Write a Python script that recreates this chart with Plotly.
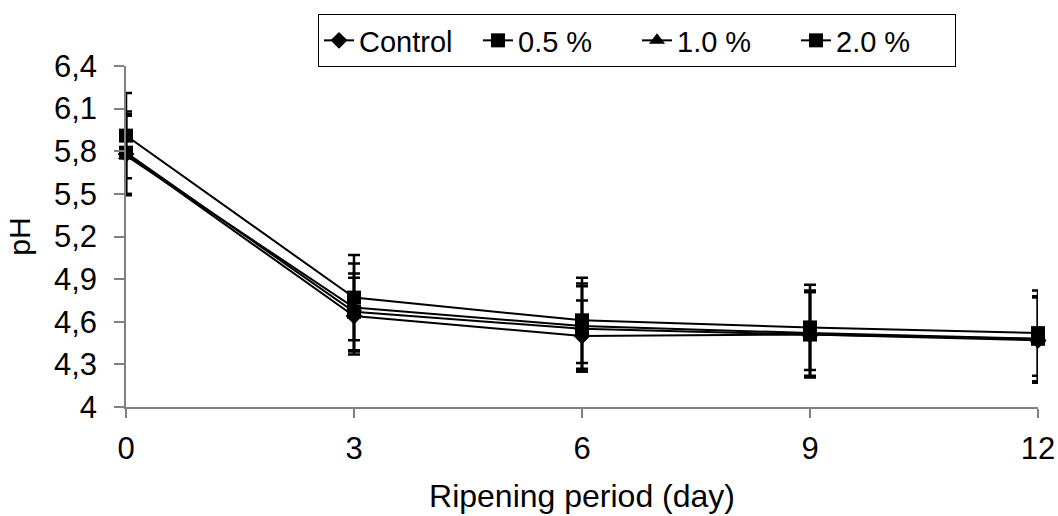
import plotly.graph_objects as go

days = [0, 3, 6, 9, 12]
series_names = ["Control", "0.5 %", "1.0 %", "2.0 %"]
control = [5.78, 4.64, 4.50, 4.51, 4.47]
p05 = [5.79, 4.67, 4.55, 4.51, 4.48]
p10 = [5.77, 4.70, 4.57, 4.52, 4.48]
p20 = [5.91, 4.77, 4.61, 4.56, 4.52]
err_control = [0.28, 0.27, 0.25, 0.30, 0.30]
err_p05 = [0.29, 0.27, 0.30, 0.30, 0.30]
err_p10 = [0.28, 0.31, 0.30, 0.30, 0.30]
err_p20 = [0.30, 0.30, 0.30, 0.30, 0.30]
symbols = ["diamond", "square", "triangle-up", "square"]

y_ticks = [4.0, 4.3, 4.6, 4.9, 5.2, 5.5, 5.8, 6.1, 6.4]
y_ticktext = ["4", "4,3", "4,6", "4,9", "5,2", "5,5", "5,8", "6,1", "6,4"]
x_ticks = [0, 3, 6, 9, 12]

fig = go.Figure()
for name, vals, errs, sym in zip(series_names, [control, p05, p10, p20],
                                 [err_control, err_p05, err_p10, err_p20], symbols):
    fig.add_trace(go.Scatter(
        x=days, y=vals, name=name, mode="lines+markers",
        line=dict(color="black", width=2),
        marker=dict(symbol=sym, size=14 if sym != "diamond" else 13, color="black"),
        error_y=dict(type="data", array=errs, visible=True, color="black",
                     thickness=2.5, width=6),
        cliponaxis=False,
    ))

font_family = "Liberation Sans, Arial, sans-serif"
fig.update_layout(
    template="none",
    width=1058, height=516,
    margin=dict(l=126, r=20, t=66, b=109),
    paper_bgcolor="white", plot_bgcolor="white",
    font=dict(family=font_family, size=29, color="black"),
    showlegend=True,
    legend=dict(orientation="h", x=(318 - 126) / 912, y=(407 - 14) / 341,
                xanchor="left", yanchor="top",
                bordercolor="black", borderwidth=1, font=dict(size=29),
                entrywidth=114, entrywidthmode="pixels",
                itemwidth=30, tracegroupgap=0),
    xaxis=dict(range=[0, 12], tickvals=x_ticks, showgrid=False, zeroline=False,
               automargin=False,
               showline=True, linecolor="#808080", linewidth=1.5,
               ticks="outside", ticklen=9, tickcolor="#808080", tickwidth=1.5,
               ticklabelstandoff=4, tickfont=dict(size=31),
               title=dict(text="Ripening period (day)", standoff=20, font=dict(size=32))),
    yaxis=dict(range=[4, 6.4], tickvals=y_ticks, ticktext=y_ticktext, showgrid=False,
               automargin=False,
               zeroline=False, showline=True, linecolor="#808080", linewidth=1.5,
               ticks="outside", ticklen=10, tickcolor="#808080", tickwidth=1.5,
               ticklabelstandoff=11, tickfont=dict(size=31),
               title=dict(text="pH", standoff=14, font=dict(size=30))),
)

fig.write_html("out.html", config={"displayModeBar": False},
               post_script="document.body.style.margin='0';")
